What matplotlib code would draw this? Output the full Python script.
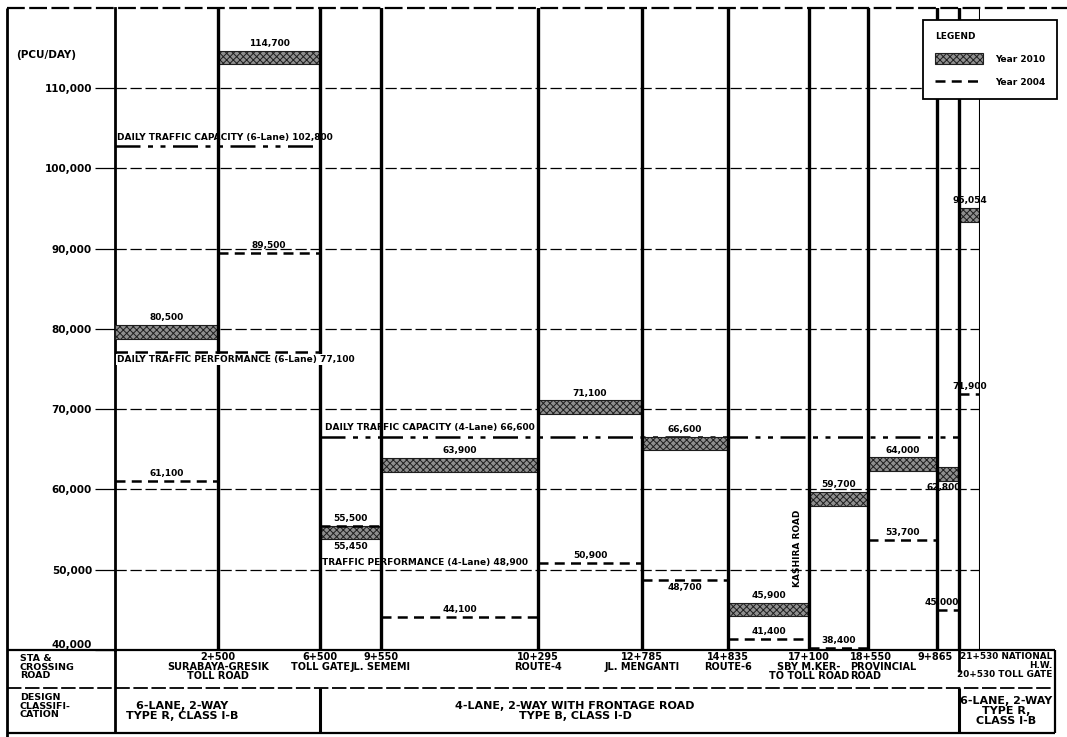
import matplotlib.pyplot as plt
from matplotlib.patches import Patch, Rectangle
from matplotlib.lines import Line2D
from matplotlib.transforms import blended_transform_factory
from matplotlib.ticker import FuncFormatter

plt.rcParams['font.family'] = ['DejaVu Sans']
plt.rcParams['font.weight'] = 'bold'
plt.rcParams['hatch.linewidth'] = 0.7

# section boundaries (schematic, not to chainage scale)
edges = [0, 103, 205, 266, 423, 527, 613, 694, 753, 822, 844, 865]

stations = ['2+500', '6+500', '9+550', '10+295', '12+785', '14+835',
            '17+100', '18+550', '9+865']
crossings = ['SURABAYA-GRESIK\nTOLL ROAD', 'TOLL GATE', 'JL. SEMEMI', 'ROUTE-4',
             'JL. MENGANTI', 'ROUTE-6', 'SBY M.KER-\nTO TOLL ROAD', 'PROVINCIAL\nROAD', '']
end_label = '21+530 NATIONAL\nH.W.\n20+530 TOLL GATE'

traffic_2010 = [80500, 114700, 55500, 63900, 71100, 66600, 45900, 59700, 64000, 62800, 95054]
traffic_2004 = [61100, 89500, 55450, 44100, 50900, 48700, 41400, 38400, 53700, 45000, 71900]

capacity_6lane = 102800
performance_6lane = 77100
capacity_4lane = 66600
performance_4lane = 48900

design_classes = ['6-LANE, 2-WAY\nTYPE R, CLASS I-B',
                  '4-LANE, 2-WAY WITH FRONTAGE ROAD\nTYPE B, CLASS I-D',
                  '6-LANE, 2-WAY\nTYPE R,\nCLASS I-B']

W, H = 1067, 737
fig = plt.figure(figsize=(W / 100, H / 100), dpi=100)

# overlay in pixel coords for frame / table
ov = fig.add_axes([0, 0, 1, 1], zorder=0)
ov.set_xlim(0, W)
ov.set_ylim(H, 0)
ov.axis('off')

ax = fig.add_axes([115 / W, (H - 650) / H, (980 - 115) / W, (650 - 8) / H], zorder=1)
ax.set_facecolor('none')
ax.set_xlim(edges[0], edges[-1])
ax.set_ylim(40000, 120000)
ax.set_yticks(range(40000, 120000, 10000))
ax.yaxis.set_major_formatter(FuncFormatter(lambda v, p: f'{int(v):,}'))
ax.set_xticks([])
ax.tick_params(axis='y', length=14.5, width=0.9, pad=2, labelsize=7.5)
ax.grid(axis='y', ls=(0, (9, 3)), color='k', lw=0.9)
for s in ['top', 'right', 'bottom']:
    ax.spines[s].set_visible(False)
ax.spines['left'].set_linewidth(2)
fig.canvas.draw()
ax.get_yticklabels()[0].set_verticalalignment('bottom')

band = 1700
fill = '#8f8f8f'
hatch_kw = dict(facecolor=fill, edgecolor='#1e1e1e', hatch='xxxxx', lw=0.8, zorder=3)
lab_kw = dict(textcoords='offset points', ha='center', fontsize=6.5, zorder=5)

for i, (v10, v04) in enumerate(zip(traffic_2010, traffic_2004)):
    x0, x1 = edges[i], edges[i + 1]
    xc = (x0 + x1) / 2
    ax.add_patch(Rectangle((x0, v10 - band), x1 - x0, band, **hatch_kw))
    ax.hlines(max(v04, 40300), x0, x1, colors='k', lw=1.8, ls=(0, (4, 2.5)), zorder=4)
    if i == 9:
        ax.annotate(f'{v10:,}', (xc - 4, v10 - band), xytext=(0, -2), va='top', **lab_kw)
    else:
        ax.annotate(f'{v10:,}', (xc, v10), xytext=(0, 2), va='bottom', **lab_kw)
    if i in (2, 5):
        ax.annotate(f'{v04:,}', (xc, v04 - (band if i == 2 else 0)), xytext=(0, -2),
                    va='top', **lab_kw)
    else:
        ax.annotate(f'{v04:,}', (xc - (6 if i == 9 else 0), max(v04, 40300)),
                    xytext=(0, 2), va='bottom', **lab_kw)

# station lines
for j, x in enumerate(edges[1:]):
    ax.axvline(x, color='k', lw=1.5 if j == len(edges) - 2 else 2.4, zorder=4)

# capacity / performance lines
ax.hlines(capacity_6lane, edges[0], edges[2], colors='k', lw=1.8, ls=(0, (10, 3, 2, 3, 2, 3)), zorder=4)
ax.annotate(f'DAILY TRAFFIC CAPACITY (6-Lane) {capacity_6lane:,}', (edges[0] + 2, capacity_6lane),
            xytext=(0, 3), textcoords='offset points', ha='left', va='bottom', fontsize=6.5, zorder=5)
ax.hlines(performance_6lane, edges[0], edges[2], colors='k', lw=1.8, ls=(0, (5, 3)), zorder=4)
ax.annotate(f'DAILY TRAFFIC PERFORMANCE (6-Lane) {performance_6lane:,}', (edges[0] + 2, performance_6lane),
            xytext=(0, -2), textcoords='offset points', ha='left', va='top', fontsize=6.5, zorder=5,
            bbox=dict(fc='white', ec='none', pad=0.5))
ax.hlines(capacity_4lane, edges[2], edges[10], colors='k', lw=1.8, ls=(0, (10, 3, 2, 3, 2, 3)), zorder=2)
ax.annotate(f'DAILY TRAFFIC CAPACITY (4-Lane) {capacity_4lane:,}', (edges[2] + 5, capacity_4lane),
            xytext=(0, 3), textcoords='offset points', ha='left', va='bottom', fontsize=6.5, zorder=5)
ax.annotate(f'TRAFFIC PERFORMANCE (4-Lane) {performance_4lane:,}', (edges[2] + 2, 50000),
            xytext=(0, 2), textcoords='offset points', ha='left', va='bottom', fontsize=6.5, zorder=5)
ax.text(edges[7] - 12, 52700, 'KASHIRA ROAD', rotation=90, ha='center', va='center', fontsize=6.5)

# frame and table
ov.vlines(7, 8, 737, colors='k', lw=2)
ov.hlines(8, 7, W, colors='k', lw=1.6, ls=(0, (8, 2)))
ov.hlines(650, 7, 1055, colors='k', lw=1.6)
ov.hlines(688, 7, 1055, colors='k', lw=1.3, ls=(0, (8, 2)))
ov.hlines(733, 7, 1055, colors='k', lw=1.6)
ov.vlines(1055, 650, 733, colors='k', lw=1.6)
ov.vlines(115, 650, 733, colors='k', lw=2)
ov.text(16, 55, '(PCU/DAY)', fontsize=7.5, va='center', ha='left')
ov.text(20, 654, 'STA &\nCROSSING\nROAD', fontsize=6.8, va='top', ha='left', linespacing=0.95)
ov.text(20, 693, 'DESIGN\nCLASSIFI-\nCATION', fontsize=6.8, va='top', ha='left', linespacing=0.95)

mix = blended_transform_factory(ax.transData, ov.transData)
for j, (sta, road) in enumerate(zip(stations, crossings)):
    x = edges[j + 1]
    txt = sta + ('\n' + road if road else '')
    if j == 7:
        ov.text(x - 18, 652, txt, transform=mix, fontsize=7, ha='left', va='top', linespacing=0.95)
    elif j == 8:
        ov.text(x + 16, 652, txt, transform=mix, fontsize=7, ha='right', va='top')
    else:
        ov.text(x, 652, txt, transform=mix, fontsize=7, ha='center', va='top', linespacing=0.95)
ov.text(1052, 652, end_label, fontsize=6.4, ha='right', va='top', linespacing=0.98, multialignment='right')
ov.vlines(edges[10], 650, 672, transform=mix, colors='k', lw=2)

for x in (edges[2], edges[10]):
    ov.vlines(x, 688, 733, transform=mix, colors='k', lw=2.2)
ov.text(182, 711, design_classes[0], fontsize=8, ha='center', va='center', linespacing=1.0)
ov.text(575, 711, design_classes[1], fontsize=8, ha='center', va='center', linespacing=1.0)
ov.text(1006, 711, design_classes[2], fontsize=8, ha='center', va='center', linespacing=1.0)

handles = [Patch(facecolor=fill, edgecolor='#1e1e1e', hatch='xxxxx', lw=0.8),
           Line2D([], [], color='k', lw=1.8, ls=(0, (4, 2.5)))]
leg = fig.legend(handles, ['Year 2010', 'Year 2004'], loc='upper left',
                 bbox_to_anchor=(923 / W, 1 - 20 / H), title='LEGEND', alignment='left',
                 fontsize=6.5, title_fontsize=6.5, frameon=True, fancybox=False,
                 edgecolor='k', framealpha=1, handlelength=5.4, handleheight=1.4,
                 labelspacing=1.4, borderpad=1.3, handletextpad=1.3, borderaxespad=0)
leg.get_frame().set_linewidth(1.3)
leg.set_zorder(10)

fig.savefig('out.png', dpi=100)
